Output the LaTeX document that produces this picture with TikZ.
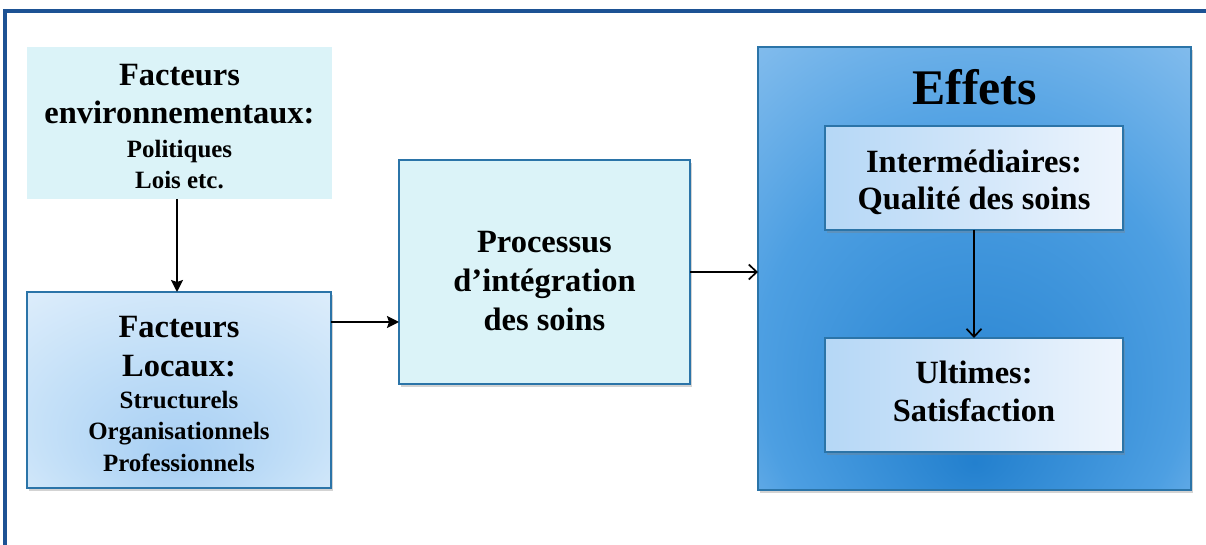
\documentclass[tikz,border=0pt]{standalone}
\usepackage{fontspec}
\setmainfont{Liberation Serif}
\usetikzlibrary{arrows.meta,shadows,calc}
\definecolor{framec}{HTML}{1D5294}
\definecolor{edgec}{HTML}{2B74A8}
\definecolor{cyanfill}{HTML}{DBF3F8}
\definecolor{locin}{HTML}{A6CEF3}
\definecolor{locmid}{HTML}{C4E0F8}
\definecolor{locout}{HTML}{EEF6FD}
\definecolor{effin}{HTML}{2380CE}
\definecolor{effmid}{HTML}{4D9FE2}
\definecolor{effout}{HTML}{AAD2F5}
\definecolor{inleft}{HTML}{B5D7F6}
\definecolor{inright}{HTML}{EEF5FD}
\pgfdeclareradialshading{locshade}{\pgfpoint{0bp}{-18bp}}{color(0bp)=(locin); color(22bp)=(locmid); color(50bp)=(locout)}
\pgfdeclareradialshading{effshade}{\pgfpoint{0bp}{-22bp}}{color(0bp)=(effin); color(25bp)=(effmid); color(50bp)=(effout)}
\tikzset{
  boxbase/.style={rectangle, inner sep=0pt, outer sep=0pt},
  edged/.style={boxbase, draw=edgec, line width=1.5bp,
     drop shadow={opacity=0.35, shadow xshift=2bp, shadow yshift=-3bp}},
  ttl/.style={font=\fontsize{32.6}{39}\selectfont\bfseries, align=center, inner sep=0pt, anchor=base},
  subt/.style={font=\fontsize{25}{31.5}\selectfont\bfseries, align=center, inner sep=0pt, anchor=base},
  solidarrow/.style={line width=1.8bp, -{Stealth[length=12bp,width=12bp,inset=2bp]}},
  openarrow/.style={line width=1.7bp, -{Straight Barb[length=8bp,width=15bp,line width=1.7bp]}},
}
\begin{document}
\begin{tikzpicture}[x=1bp,y=-1bp]
\useasboundingbox (0,0) rectangle (1206,545);
% outer frame
\draw[framec, line width=3.5bp] (5,545) -- (5,11) -- (1206,11);
% boxes
\node[boxbase, fill=cyanfill, minimum width=305bp, minimum height=152bp] (env) at (179.5,123) {};
\node[edged, shading=locshade, minimum width=304bp, minimum height=196bp] (local) at (179,390) {};
\node[edged, fill=cyanfill, minimum width=291bp, minimum height=224bp] (process) at (544.5,272) {};
\node[edged, shading=effshade, minimum width=433bp, minimum height=443bp] (effets) at (974.5,268.5) {};
\node[edged, left color=inleft, right color=inright, minimum width=298bp, minimum height=104bp] (inter) at (974,178) {};
\node[edged, left color=inleft, right color=inright, minimum width=298bp, minimum height=114bp] (ult) at (974,395) {};
% texts
\node[ttl] (envt) at (179.5,124) {Facteurs\\environnementaux:};
\node[subt] (envs) at (179.5,189) {Politiques\\Lois etc.};
\node[ttl, font=\fontsize{32.6}{40}\selectfont\bfseries] (loct) at (179,377) {Facteurs\\Locaux:};
\node[subt] (locs) at (179,471) {Structurels\\Organisationnels\\Professionnels};
\node[ttl, font=\fontsize{32.6}{39.5}\selectfont\bfseries] (proct) at (544.5,331) {Processus\\d’intégration\\des soins};
\node[ttl, font=\fontsize{50}{60}\selectfont\bfseries] (efft) at (974.5,105) {Effets};
\node[ttl, font=\fontsize{32.6}{38}\selectfont\bfseries] (intert) at (974,210) {Intermédiaires:\\Qualité des soins};
\node[ttl, font=\fontsize{32.6}{38}\selectfont\bfseries] (ultt) at (974,421) {Ultimes:\\Satisfaction};
% connectors
\coordinate (a1) at (331,322);
\coordinate (a0) at (177,199);
\draw[solidarrow] (env.south -| a0) -- (local.north -| a0);
\draw[solidarrow] (local.east |- a1) -- (process.west |- a1);
\draw[openarrow] (process.east) -- (process.east -| effets.west);
\draw[openarrow] (inter.south) -- (ult.north);
\end{tikzpicture}
\end{document}
